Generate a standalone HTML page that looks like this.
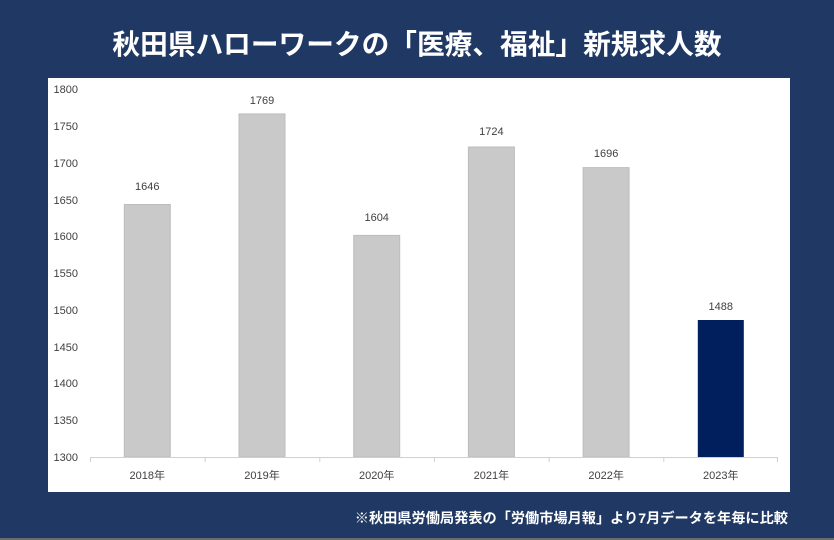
<!DOCTYPE html>
<html><head><meta charset="utf-8"><style>
html,body{margin:0;padding:0;width:834px;height:540px;overflow:hidden;background:#203864;}
</style></head><body>
<svg width="834" height="540" xmlns="http://www.w3.org/2000/svg" style="display:block">
<rect x="0" y="0" width="834" height="540" fill="#203864"/>
<rect x="0" y="538" width="834" height="2" fill="#6b6b6b"/>
<text x="417" y="54" text-anchor="middle" font-family="'Liberation Sans','Noto Sans CJK JP',sans-serif" font-size="27.7" font-weight="bold" fill="#ffffff">秋田県ハローワークの「医療、福祉」新規求人数</text>
<rect x="48" y="78" width="742" height="414" fill="#ffffff"/>
<g font-family="'Liberation Sans','Noto Sans CJK JP',sans-serif" font-size="11" fill="#404040" text-anchor="end">
<text x="78" y="93">1800</text><text x="78" y="130">1750</text><text x="78" y="167">1700</text>
<text x="78" y="204">1650</text><text x="78" y="240">1600</text><text x="78" y="277">1550</text>
<text x="78" y="314">1500</text><text x="78" y="351">1450</text><text x="78" y="387">1400</text>
<text x="78" y="424">1350</text><text x="78" y="461">1300</text>
</g>
<g fill="#c9c9c9" stroke="#bdbdbd" stroke-width="1">
<rect x="124.3" y="204.5" width="46" height="252.5"/>
<rect x="239" y="113.9" width="46" height="343.1"/>
<rect x="353.7" y="235.4" width="46" height="221.6"/>
<rect x="468.4" y="147" width="46" height="310"/>
<rect x="583.1" y="167.6" width="46" height="289.4"/>
</g>
<rect x="697.8" y="320" width="46" height="137" fill="#001f5c"/>
<g stroke="#d0d0d0" stroke-width="1">
<line x1="90" y1="457.5" x2="778" y2="457.5"/>
<line x1="90.5" y1="457" x2="90.5" y2="462"/><line x1="205.2" y1="457" x2="205.2" y2="462"/>
<line x1="319.8" y1="457" x2="319.8" y2="462"/><line x1="434.5" y1="457" x2="434.5" y2="462"/>
<line x1="549.2" y1="457" x2="549.2" y2="462"/><line x1="663.8" y1="457" x2="663.8" y2="462"/>
<line x1="777.5" y1="457" x2="777.5" y2="462"/>
</g>
<g font-family="'Liberation Sans','Noto Sans CJK JP',sans-serif" font-size="11" fill="#404040" text-anchor="middle">
<text x="147.3" y="190">1646</text><text x="262" y="104">1769</text><text x="376.7" y="221">1604</text>
<text x="491.4" y="135">1724</text><text x="606.1" y="157">1696</text><text x="720.8" y="310">1488</text>
<text x="147.3" y="479">2018年</text><text x="262" y="479">2019年</text><text x="376.7" y="479">2020年</text>
<text x="491.4" y="479">2021年</text><text x="606.1" y="479">2022年</text><text x="720.8" y="479">2023年</text>
</g>
<text x="788" y="523" text-anchor="end" font-family="'Liberation Sans','Noto Sans CJK JP',sans-serif" font-size="14.2" font-weight="bold" fill="#ffffff">※秋田県労働局発表の「労働市場月報」より7月データを年毎に比較</text>
</svg>
</body></html>
